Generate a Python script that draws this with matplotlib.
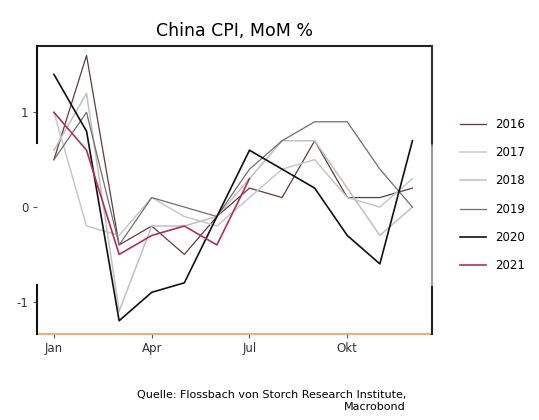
import matplotlib.pyplot as plt

months = list(range(1, 13))
tick_pos = [1, 4, 7, 10]
tick_labels = ['Jan', 'Apr', 'Jul', 'Okt']

cpi_2016 = [0.5, 1.6, -0.4, -0.2, -0.5, -0.1, 0.2, 0.1, 0.7, 0.1, 0.1, 0.2]
cpi_2017 = [1.0, -0.2, -0.3, 0.1, -0.1, -0.2, 0.1, 0.4, 0.5, 0.1, 0.0, 0.3]
cpi_2018 = [0.6, 1.2, -1.1, -0.2, -0.2, -0.1, 0.3, 0.7, 0.7, 0.2, -0.3, 0.0]
cpi_2019 = [0.5, 1.0, -0.4, 0.1, 0.0, -0.1, 0.4, 0.7, 0.9, 0.9, 0.4, 0.0]
cpi_2020 = [1.4, 0.8, -1.2, -0.9, -0.8, -0.1, 0.6, 0.4, 0.2, -0.3, -0.6, 0.7]
cpi_2021 = [1.0, 0.6, -0.5, -0.3, -0.2, -0.4, 0.3]

series = [('2016', cpi_2016, '#5e3c3c', 0.9),
          ('2017', cpi_2017, '#c8c8c8', 1.1),
          ('2018', cpi_2018, '#c0c0c0', 1.1),
          ('2019', cpi_2019, '#6e6e6e', 0.9),
          ('2020', cpi_2020, '#111111', 1.2),
          ('2021', cpi_2021, '#b0305a', 1.2)]

fig = plt.figure(figsize=(5.39, 4.20), dpi=100)
ax = fig.add_axes([37/539, 1 - 334/420, 395/539, 288/420])

for name, vals, col, lw in series:
    ax.plot(months[:len(vals)], vals, color=col, linewidth=lw, label=name)

ax.set_xlim(0.48, 12.6)
ax.set_ylim(-1.34, 1.70)
ax.set_xticks(tick_pos)
ax.set_xticklabels(tick_labels)
ax.set_yticks([-1, 0, 1])
ax.set_yticklabels(['-1', '0', '1'])
ax.tick_params(length=3, width=0.8, color='#555555', labelsize=8.5, labelcolor='#333333', pad=3)

# rahmen wie im original (teilweise)
for s in ax.spines.values():
    s.set_visible(False)
ax.axhline(1.70, color='#222222', linewidth=1.5, clip_on=False)
ax.axhline(-1.34, color='#e8b080', linewidth=1.5, clip_on=False)
ax.axvline(0.48, ymin=0.663, ymax=1, color='#111111', linewidth=1.5, clip_on=False)
ax.axvline(0.48, ymin=0, ymax=0.17, color='#111111', linewidth=1.5, clip_on=False)
ax.axvline(12.6, ymin=0.656, ymax=1, color='#333333', linewidth=1.5, clip_on=False)
ax.axvline(12.6, ymin=0.163, ymax=0.656, color='#888888', linewidth=1.2, clip_on=False)
ax.axvline(12.6, ymin=0, ymax=0.163, color='#222222', linewidth=1.5, clip_on=False)

ax.set_title('China CPI, MoM %', fontsize=12.5, pad=7)

leg = fig.legend(loc='upper left', bbox_to_anchor=(455/539, 1 - 113/420), frameon=False,
                 fontsize=8.5, handlelength=2.2, labelspacing=1.3, borderaxespad=0)

fig.text(406/539, 1 - 401/420, 'Quelle: Flossbach von Storch Research Institute,\nMacrobond',
         ha='right', va='center', fontsize=8, linespacing=1.2)

fig.savefig('out.png', dpi=100)
